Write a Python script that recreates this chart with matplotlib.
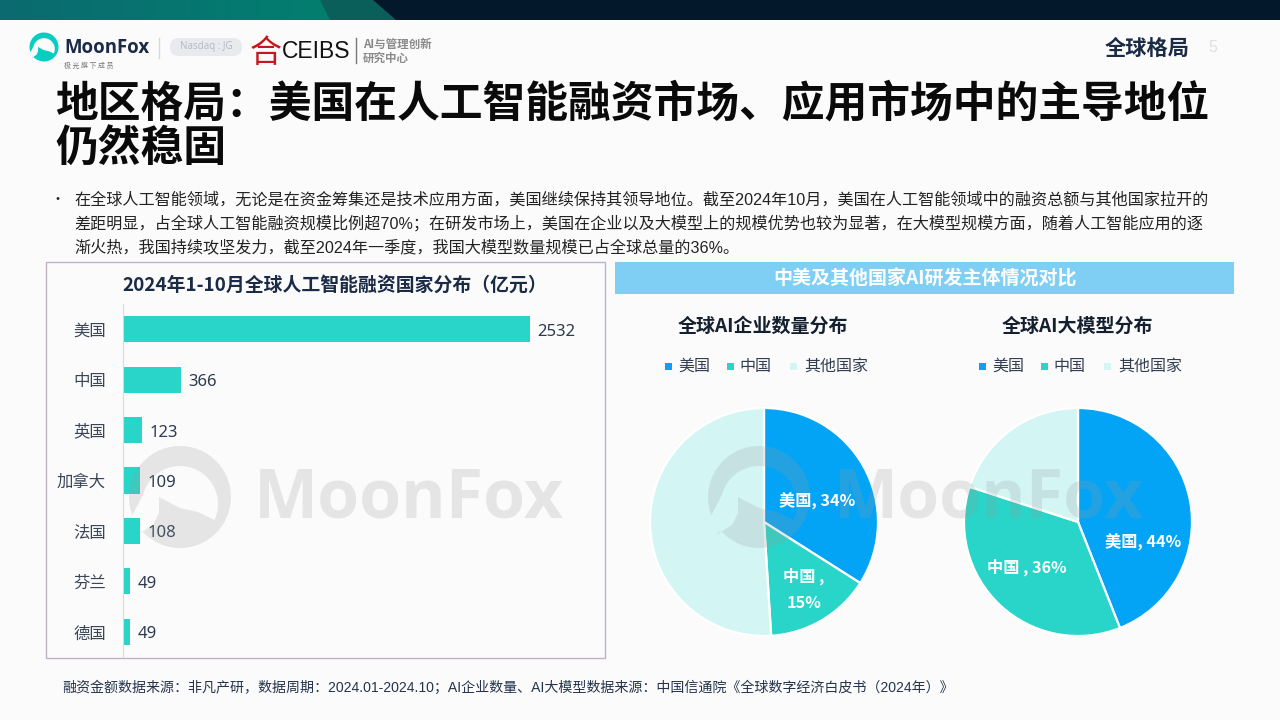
#!/usr/bin/env python3
import numpy as np
import matplotlib
matplotlib.use('Agg')
import matplotlib.pyplot as plt
from matplotlib.patches import Rectangle, Polygon, FancyBboxPatch

plt.rcParams['font.family'] = ['Noto Sans CJK SC', 'DejaVu Sans']

# data
countries = ['美国', '中国', '英国', '加拿大', '法国', '芬兰', '德国']
funding = [2532, 366, 123, 109, 108, 49, 49]

pie_names = ['美国', '中国', '其他国家']
company_share = [34, 15, 51]
model_share = [44, 36, 20]
company_labels = ['美国, 34%', '中国 ,\n15%']
model_labels = ['美国, 44%', '中国 , 36%']

title_lines = ['地区格局：美国在人工智能融资市场、应用市场中的主导地位', '仍然稳固']
body_lines = [
    '在全球人工智能领域，无论是在资金筹集还是技术应用方面，美国继续保持其领导地位。截至2024年10月，美国在人工智能领域中的融资总额与其他国家拉开的',
    '差距明显，占全球人工智能融资规模比例超70%；在研发市场上，美国在企业以及大模型上的规模优势也较为显著，在大模型规模方面，随着人工智能应用的逐',
    '渐火热，我国持续攻坚发力，截至2024年一季度，我国大模型数量规模已占全球总量的36%。',
]
footer = '融资金额数据来源：非凡产研，数据周期：2024.01-2024.10；AI企业数量、AI大模型数据来源：中国信通院《全球数字经济白皮书（2024年）》'

BG = '#fbfbfc'
NAVY = '#1b2b45'
TEAL = '#28d5c8'
BLUE = '#03a4f5'
PALE = '#d3f6f5'
pie_colors = [BLUE, TEAL, PALE]

W, H = 1280, 720
fig = plt.figure(figsize=(12.8, 7.2), dpi=100, facecolor=BG)


def px_axes(x0, y0, x1, y1, **kw):
    """axes placed with pixel corners, y counted from the top"""
    return fig.add_axes([x0 / W, 1 - y1 / H, (x1 - x0) / W, (y1 - y0) / H], **kw)


bg = fig.add_axes([0, 0, 1, 1], zorder=0)
bg.set_xlim(0, W)
bg.set_ylim(H, 0)
bg.axis('off')

# top band
bg.add_patch(Rectangle((0, 0), W, 20, color='#04182c', lw=0))
bg.add_patch(Polygon([[0, 0], [373, 0], [396, 20], [0, 20]], color='#0a5f5a', lw=0))
grad = np.linspace(0, 1, 256).reshape(1, -1)
cmap = matplotlib.colors.LinearSegmentedColormap.from_list('band', ['#0b6a70', '#02806f'])
im = bg.imshow(grad, extent=(0, 340, 20, 0), cmap=cmap, aspect='auto', zorder=2)
im.set_clip_path(Polygon([[0, 0], [320, 0], [330, 20], [0, 20]], transform=bg.transData))
bg.set_xlim(0, W)
bg.set_ylim(H, 0)


def logo(ax, cx, cy, r, color, alpha=1.0, z=3):
    # disc with a moon shaped hole, tail closing it on the lower left
    s = r / 51.0
    outer = np.radians(np.linspace(139, -201, 90))
    inner = np.radians(np.linspace(-165, 25, 50))
    pts = [[51 * np.cos(t), 51 * np.sin(t)] for t in outer]
    pts += [[38 * np.cos(t), 7 + 38 * np.sin(t)] for t in inner]
    pts += [[18, 15], [0, 11], [-21, 0], [-21, 16], [-27, 28], [-43, 38]]
    ax.add_patch(Polygon([[cx + a * s, cy + b * s] for a, b in pts], closed=True, color=color,
                         alpha=alpha, lw=0, zorder=z))


# header logos
logo(bg, 44, 47, 14.5, '#06cfc0')
bg.text(64, 48, 'MoonFox', family='Open Sans', weight='bold', fontsize=13.4, color=NAVY, va='center')
bg.text(64, 66, '极 光 旗 下 成 员', fontsize=5, color='#777777', va='center')
bg.plot([159, 159], [38, 58], color='#d8d8d8', lw=1)
bg.add_patch(FancyBboxPatch((170, 38), 72, 18, boxstyle='round,pad=0,rounding_size=9', color='#e8eaee', lw=0))
bg.text(206, 47, 'Nasdaq : JG', family='Open Sans', fontsize=7, color='#b4b8c0', ha='center', va='center')
bg.text(265.5, 53, '合', fontsize=23, color='#c8161d', ha='center', va='center')
bg.text(282, 51, 'CEIBS', family='Liberation Sans', fontsize=16.5, color='#111111', va='center')
bg.plot([356, 356], [38, 63], color='#777777', lw=1)
bg.text(363, 44, 'AI与管理创新', fontsize=8.3, weight='bold', color='#8a8a8a', va='center')
bg.text(363, 58, '研究中心', fontsize=8.3, weight='bold', color='#8a8a8a', va='center')

bg.text(1105, 48, '全球格局', fontsize=15.3, weight='bold', color=NAVY, va='center')
bg.text(1213, 48, '5', family='Liberation Sans', fontsize=11.5, color='#dde0e4', ha='center', va='center')

# title
bg.text(55, 104, title_lines[0], fontsize=30.8, weight='bold', color='#0a0a0a', va='center')
bg.text(55, 149, title_lines[1], fontsize=30.8, weight='bold', color='#0a0a0a', va='center')

# bullet text
bg.text(58, 200, '•', fontsize=10, color='#222222', ha='center', va='center')
for i, line in enumerate(body_lines):
    bg.text(74, 200 + i * 23.5, line, fontsize=11.6, color='#222222', va='center',
            family=['Liberation Sans', 'Noto Sans CJK SC'])

# left panel
bg.add_patch(Rectangle((46, 262), 559, 395.5, fill=False, ec='#c2b2c8', lw=1))
bg.text(335, 285, '2024年1-10月全球人工智能融资国家分布（亿元）', fontsize=13.6, weight='bold',
        color=NAVY, ha='center', va='center')

ax = px_axes(122.5, 304, 600, 657, zorder=1)
ax.patch.set_alpha(0)
y = np.arange(len(countries))
bars = ax.barh(y, funding, height=0.52, color=TEAL)
ax.set_xlim(0, 2968)
ax.set_ylim(len(countries) - 0.5, -0.5)
ax.set_yticks(y)
ax.set_yticklabels(countries, fontsize=11.8, color='#3a4658')
ax.set_xticks([])
ax.tick_params(axis='y', length=0, pad=12)
for name in ['top', 'right', 'bottom']:
    ax.spines[name].set_visible(False)
ax.spines['left'].set_color('#c6dff0')
for bar, val in zip(bars, funding):
    ax.text(val + 46, bar.get_y() + bar.get_height() / 2 + 0.05, str(val), fontsize=12,
            color='#2d3a4d', va='center', family='Noto Sans')

# right panel
bg.add_patch(Rectangle((615, 262), 619, 32, color='#7fcff5', lw=0))
bg.text(925, 279, '中美及其他国家AI研发主体情况对比', fontsize=13.7, weight='bold', color='white',
        ha='center', va='center')

# watermark and pie labels sit above the charts
top = fig.add_axes([0, 0, 1, 1], zorder=5)
top.set_xlim(0, W)
top.set_ylim(H, 0)
top.axis('off')


def draw_pie(cx, title, share, labels, label_pos, legend_x):
    a = px_axes(cx - 115, 407, cx + 115, 637, zorder=1)
    a.pie(share, colors=pie_colors, startangle=90, counterclock=False, radius=1,
          wedgeprops={'edgecolor': 'white', 'linewidth': 1.6})
    a.set_xlim(-230 / 228, 230 / 228)
    a.set_ylim(-230 / 228, 230 / 228)
    for text, (px, py) in zip(labels, label_pos):
        top.text(px, py, text, fontsize=11.7, color='white', weight='bold', ha='center', va='center',
                 linespacing=1.75, zorder=6)
    bg.text(cx - 1, 326, title, fontsize=13.7, weight='bold', color='#14202f', ha='center', va='center')
    for name, color, (mx, tx) in zip(pie_names, pie_colors, legend_x):
        bg.add_patch(Rectangle((mx, 362.5), 7, 7, color=color, lw=0))
        bg.text(tx, 366, name, fontsize=11.5, color='#333f50', va='center')


draw_pie(764, '全球AI企业数量分布', company_share, company_labels,
         [(817, 501), (804, 589)], [(665, 678), (727, 739), (790, 804)])
draw_pie(1078, '全球AI大模型分布', model_share, model_labels,
         [(1143, 542), (1027, 567)], [(979, 992), (1041, 1053), (1104, 1118)])

for lx, tx in [(180, 254), (759, 834)]:
    logo(top, lx, 497, 51, '#9a9a9a', alpha=0.22)
    top.text(tx, 499, 'MoonFox', family='Open Sans', weight='bold', fontsize=49, color='#9a9a9a',
             alpha=0.22, va='center')

# footer, the CJK face has no italic so keep the latin upright like the reference
bg.text(62, 688, footer, fontsize=10.1, color='#25344a', va='center',
        family=['Liberation Sans', 'Noto Sans CJK SC'])

fig.savefig('out.png', dpi=100, facecolor=BG)
